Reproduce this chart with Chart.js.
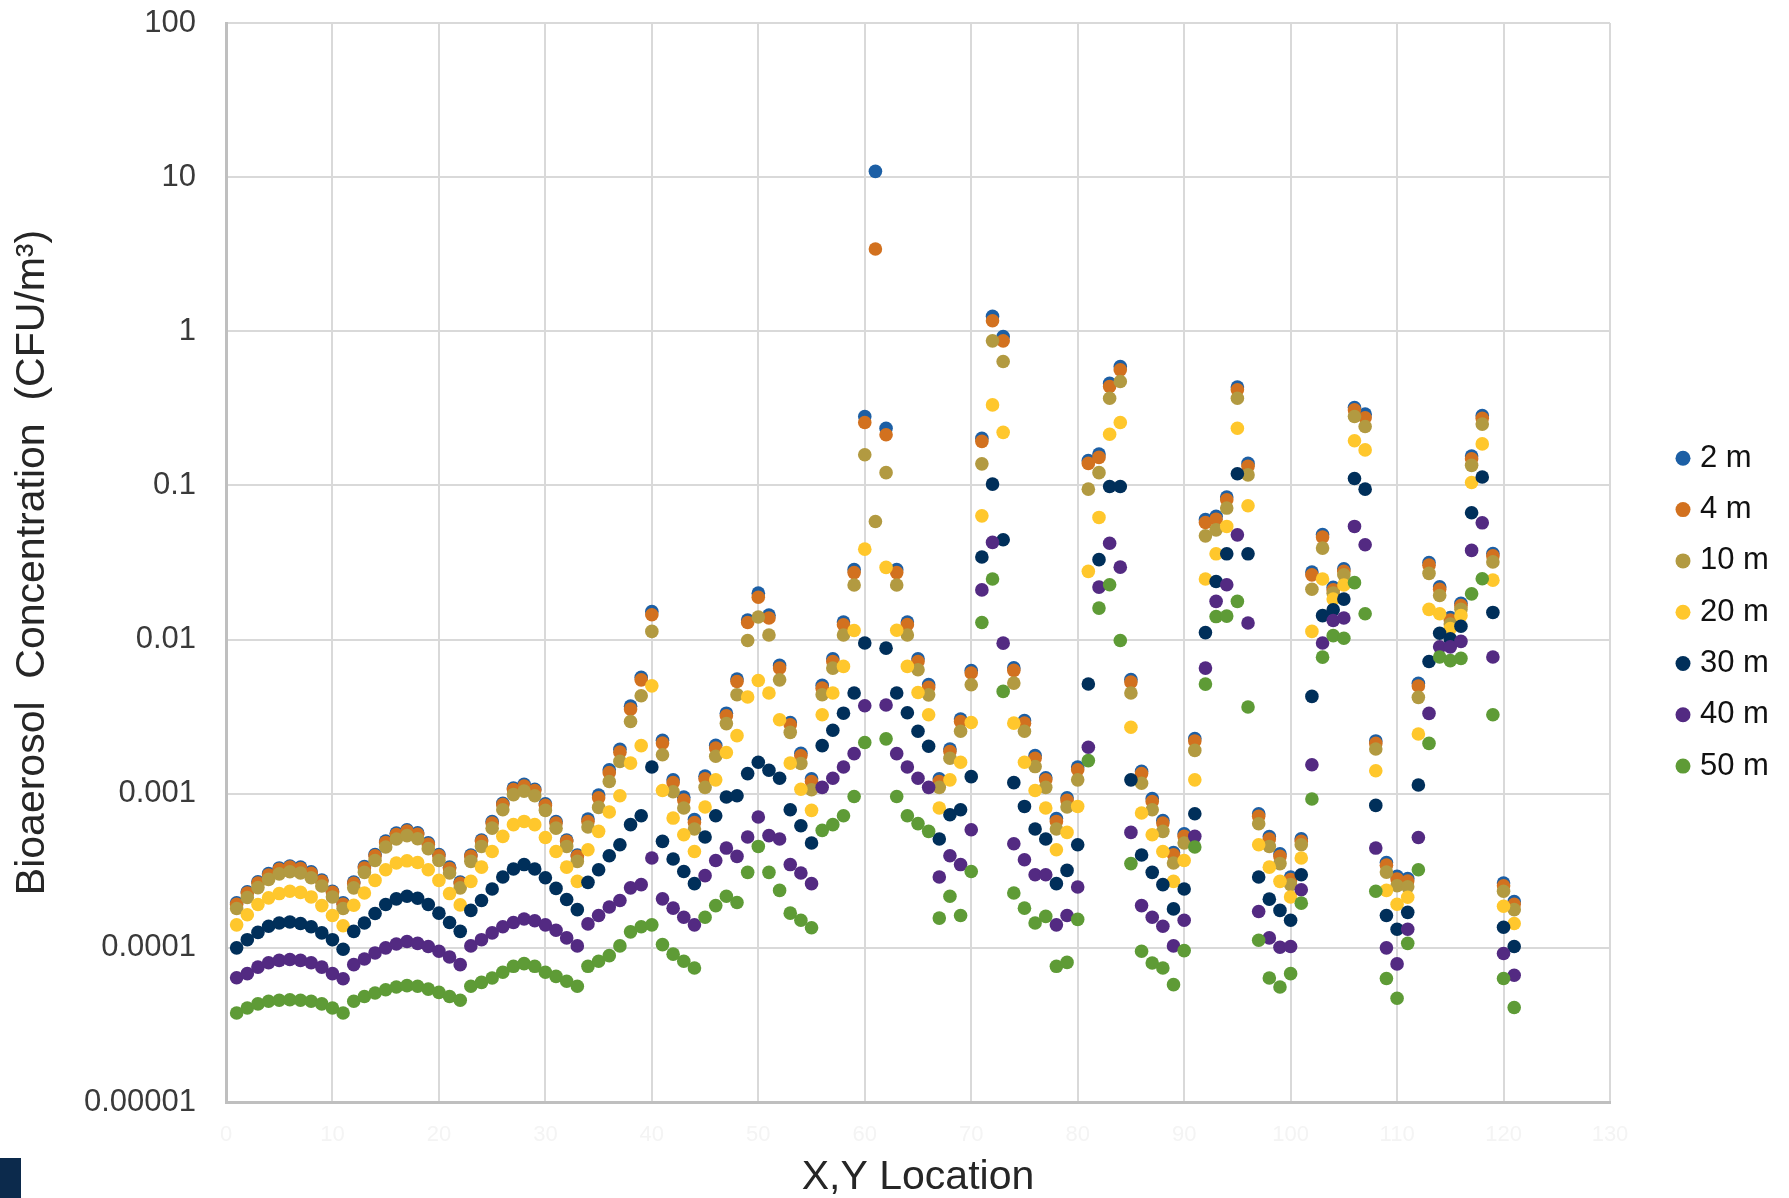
<!DOCTYPE html>
<html>
<head>
<meta charset="utf-8">
<script src="https://cdn.jsdelivr.net/npm/chart.js@4.4.1/dist/chart.umd.min.js"></script>
<style>
  html, body { margin: 0; padding: 0; background: #ffffff; }
  #wrap { position: relative; width: 1789px; height: 1198px; }
  #corner { position: absolute; left: 0; top: 1158px; width: 21px; height: 40px; background: #0c2a4c; }
</style>
</head>
<body>
<div id="wrap">
  <canvas id="c" width="1789" height="1198"></canvas>
  <div id="corner"></div>
</div>
<script>
// ---------------- data ----------------
const seriesNames = ['2 m', '4 m', '10 m', '20 m', '30 m', '40 m', '50 m'];
const xTickValues = [0, 10, 20, 30, 40, 50, 60, 70, 80, 90, 100, 110, 120, 130];
const yTickValues = [1e-5, 1e-4, 1e-3, 1e-2, 1e-1, 1, 10, 100];
const yTickLabels = ['0.00001', '0.0001', '0.001', '0.01', '0.1', '1', '10', '100'];
// X,Y location index 1..121 (11 x 11 grid)
const locationCount = 121;

const s2m = [
  1.96e-4, 2.31e-4, 2.68e-4, 3.03e-4, 3.3e-4, 3.4e-4, 3.34e-4, 3.11e-4, 2.75e-4, 2.33e-4, 1.96e-4,
  2.67e-4, 3.37e-4, 4.03e-4, 4.93e-4, 5.55e-4, 5.84e-4, 5.57e-4, 4.8e-4, 4.03e-4, 3.34e-4, 2.67e-4,
  4.0e-4, 5.0e-4, 6.6e-4, 8.68e-4, 1.09e-3, 1.15e-3, 1.07e-3, 8.6e-4, 6.6e-4, 5.0e-4, 4.0e-4,
  6.85e-4, 9.8e-4, 1.43e-3, 1.94e-3, 3.7e-3, 5.7e-3, 1.52e-2, 2.22e-3, 1.23e-3, 9.5e-4, 6.8e-4,
  1.3e-3, 2.06e-3, 3.33e-3, 5.55e-3, 1.34e-2, 2.0e-2, 1.44e-2, 6.8e-3, 2.9e-3, 1.83e-3, 1.25e-3,
  5.05e-3, 7.5e-3, 1.3e-2, 2.85e-2, 0.28, 10.9, 0.235, 2.85e-2, 1.3e-2, 7.5e-3, 5.1e-3,
  1.25e-3, 1.95e-3, 3.05e-3, 6.3e-3, 0.202, 1.25, 0.925, 6.55e-3, 2.98e-3, 1.77e-3, 1.27e-3,
  6.9e-4, 9.4e-4, 1.49e-3, 0.145, 0.16, 0.46, 0.59, 5.5e-3, 1.4e-3, 9.3e-4, 6.7e-4,
  4.15e-4, 5.5e-4, 2.28e-3, 0.06, 0.063, 0.084, 0.435, 0.139, 7.4e-4, 5.28e-4, 4.07e-4,
  2.88e-4, 5.1e-4, 0.0274, 0.048, 0.0218, 0.0288, 0.32, 0.29, 2.2e-3, 3.58e-4, 2.91e-4,
  2.82e-4, 5.2e-3, 0.0316, 0.022, 0.0139, 0.0172, 0.155, 0.284, 0.0362, 2.63e-4, 2.0e-4
];
const s4m = [
  1.92e-4, 2.27e-4, 2.63e-4, 2.97e-4, 3.23e-4, 3.34e-4, 3.27e-4, 3.05e-4, 2.7e-4, 2.29e-4, 1.92e-4,
  2.62e-4, 3.3e-4, 3.95e-4, 4.83e-4, 5.44e-4, 5.72e-4, 5.46e-4, 4.7e-4, 3.95e-4, 3.27e-4, 2.62e-4,
  3.93e-4, 4.91e-4, 6.46e-4, 8.5e-4, 1.065e-3, 1.12e-3, 1.05e-3, 8.42e-4, 6.46e-4, 4.91e-4, 3.93e-4,
  6.6e-4, 9.4e-4, 1.37e-3, 1.86e-3, 3.54e-3, 5.48e-3, 1.45e-2, 2.13e-3, 1.18e-3, 9.1e-4, 6.5e-4,
  1.25e-3, 1.98e-3, 3.2e-3, 5.35e-3, 1.29e-2, 1.88e-2, 1.38e-2, 6.53e-3, 2.8e-3, 1.76e-3, 1.2e-3,
  4.84e-3, 7.2e-3, 1.247e-2, 2.72e-2, 0.256, 3.42, 0.213, 2.72e-2, 1.25e-2, 7.2e-3, 4.9e-3,
  1.2e-3, 1.88e-3, 2.94e-3, 6.07e-3, 0.193, 1.17, 0.867, 6.31e-3, 2.87e-3, 1.7e-3, 1.23e-3,
  6.61e-4, 9.05e-4, 1.43e-3, 0.139, 0.152, 0.438, 0.562, 5.3e-3, 1.35e-3, 8.9e-4, 6.45e-4,
  4.02e-4, 5.29e-4, 2.2e-3, 0.0575, 0.0604, 0.0807, 0.417, 0.133, 7.13e-4, 5.08e-4, 3.92e-4,
  2.77e-4, 4.91e-4, 0.0263, 0.0462, 0.021, 0.0277, 0.309, 0.275, 2.12e-3, 3.44e-4, 2.8e-4,
  2.71e-4, 5.0e-3, 0.0304, 0.0212, 0.0134, 0.0166, 0.149, 0.273, 0.0349, 2.53e-4, 1.92e-4
];
const s10m = [
  1.8e-4, 2.12e-4, 2.46e-4, 2.78e-4, 3.02e-4, 3.12e-4, 3.06e-4, 2.85e-4, 2.52e-4, 2.14e-4, 1.8e-4,
  2.45e-4, 3.09e-4, 3.69e-4, 4.51e-4, 5.08e-4, 5.35e-4, 5.1e-4, 4.4e-4, 3.69e-4, 3.06e-4, 2.45e-4,
  3.64e-4, 4.55e-4, 5.98e-4, 7.87e-4, 9.86e-4, 1.04e-3, 9.7e-4, 7.8e-4, 5.98e-4, 4.55e-4, 3.64e-4,
  6.08e-4, 8.15e-4, 1.2e-3, 1.62e-3, 2.94e-3, 4.32e-3, 1.13e-2, 1.79e-3, 1.03e-3, 8.08e-4, 5.9e-4,
  1.1e-3, 1.75e-3, 2.85e-3, 4.39e-3, 9.87e-3, 1.4e-2, 1.07e-2, 5.48e-3, 2.5e-3, 1.57e-3, 1.06e-3,
  4.39e-3, 6.53e-3, 1.07e-2, 2.26e-2, 0.158, 0.0583, 0.121, 2.26e-2, 1.07e-2, 6.37e-3, 4.38e-3,
  1.1e-3, 1.7e-3, 2.54e-3, 5.09e-3, 0.138, 0.867, 0.637, 5.22e-3, 2.54e-3, 1.5e-3, 1.1e-3,
  5.9e-4, 8.2e-4, 1.23e-3, 0.0946, 0.121, 0.368, 0.472, 4.5e-3, 1.17e-3, 7.87e-4, 5.7e-4,
  3.55e-4, 4.79e-4, 1.91e-3, 0.0471, 0.0515, 0.0713, 0.368, 0.117, 6.39e-4, 4.55e-4, 3.52e-4,
  2.57e-4, 4.67e-4, 0.0212, 0.0392, 0.02, 0.0263, 0.28, 0.241, 1.95e-3, 3.1e-4, 2.53e-4,
  2.49e-4, 4.22e-3, 0.0269, 0.0193, 0.0126, 0.0157, 0.135, 0.25, 0.0319, 2.33e-4, 1.77e-4
];
const s20m = [
  1.41e-4, 1.64e-4, 1.91e-4, 2.11e-4, 2.25e-4, 2.33e-4, 2.29e-4, 2.14e-4, 1.88e-4, 1.62e-4, 1.39e-4,
  1.89e-4, 2.27e-4, 2.74e-4, 3.21e-4, 3.55e-4, 3.67e-4, 3.58e-4, 3.21e-4, 2.74e-4, 2.25e-4, 1.9e-4,
  2.7e-4, 3.34e-4, 4.22e-4, 5.29e-4, 6.3e-4, 6.61e-4, 6.3e-4, 5.2e-4, 4.22e-4, 3.34e-4, 2.7e-4,
  4.33e-4, 5.7e-4, 7.61e-4, 9.7e-4, 1.58e-3, 2.05e-3, 5.01e-3, 1.05e-3, 6.95e-4, 5.42e-4, 4.22e-4,
  8.2e-4, 1.23e-3, 1.85e-3, 2.38e-3, 4.24e-3, 5.43e-3, 4.5e-3, 3.02e-3, 1.58e-3, 1.07e-3, 7.8e-4,
  3.25e-3, 4.5e-3, 6.7e-3, 1.146e-2, 3.86e-2, null, 2.94e-2, 1.15e-2, 6.7e-3, 4.54e-3, 3.25e-3,
  8.08e-4, 1.23e-3, 1.6e-3, 2.9e-3, 0.0635, 0.333, 0.221, 2.87e-3, 1.6e-3, 1.05e-3, 8.08e-4,
  4.33e-4, 5.61e-4, 8.27e-4, 0.0277, 0.062, 0.215, 0.256, 2.7e-3, 7.5e-4, 5.42e-4, 4.22e-4,
  2.7e-4, 3.69e-4, 1.23e-3, 0.0247, 0.036, 0.0542, 0.235, 0.0738, 4.67e-4, 3.34e-4, 2.7e-4,
  2.14e-4, 3.83e-4, 0.0113, 0.0247, 0.0183, 0.0226, 0.195, 0.17, 1.41e-3, 2.36e-4, 1.92e-4,
  2.13e-4, 2.44e-3, 0.0157, 0.0147, 0.0118, 0.0143, 0.1045, 0.186, 0.0243, 1.86e-4, 1.44e-4
];
const s30m = [
  1.0e-4, 1.13e-4, 1.26e-4, 1.38e-4, 1.45e-4, 1.47e-4, 1.44e-4, 1.37e-4, 1.25e-4, 1.13e-4, 9.8e-5,
  1.28e-4, 1.45e-4, 1.67e-4, 1.91e-4, 2.08e-4, 2.16e-4, 2.1e-4, 1.91e-4, 1.68e-4, 1.46e-4, 1.28e-4,
  1.75e-4, 2.03e-4, 2.41e-4, 2.88e-4, 3.25e-4, 3.47e-4, 3.25e-4, 2.85e-4, 2.43e-4, 2.06e-4, 1.77e-4,
  2.66e-4, 3.21e-4, 3.96e-4, 4.67e-4, 6.3e-4, 7.2e-4, 1.49e-3, 4.91e-4, 3.77e-4, 3.13e-4, 2.61e-4,
  5.24e-4, 7.2e-4, 9.52e-4, 9.7e-4, 1.35e-3, 1.6e-3, 1.42e-3, 1.26e-3, 7.87e-4, 6.2e-4, 4.79e-4,
  2.05e-3, 2.58e-3, 3.33e-3, 4.5e-3, 9.5e-3, null, 8.8e-3, 4.5e-3, 3.35e-3, 2.54e-3, 2.03e-3,
  5.08e-4, 7.31e-4, 7.87e-4, 1.29e-3, 0.0343, 0.102, 0.0444, 1.18e-3, 8.27e-4, 5.9e-4, 5.08e-4,
  2.61e-4, 3.18e-4, 4.67e-4, 5.15e-3, 0.033, 0.0984, 0.0984, 1.23e-3, 4.0e-4, 3.09e-4, 2.57e-4,
  1.79e-4, 2.41e-4, 7.41e-4, 0.0111, 0.0238, 0.036, 0.119, 0.036, 2.88e-4, 2.07e-4, 1.75e-4,
  1.51e-4, 2.98e-4, 4.28e-3, 0.0143, 0.0156, 0.0183, 0.111, 0.0946, 8.4e-4, 1.62e-4, 1.32e-4,
  1.7e-4, 1.14e-3, 7.2e-3, 0.011, 0.0101, 0.0122, 0.0665, 0.1135, 0.015, 1.36e-4, 1.02e-4
];
const s40m = [
  6.4e-5, 6.8e-5, 7.5e-5, 8.0e-5, 8.3e-5, 8.4e-5, 8.3e-5, 8.0e-5, 7.5e-5, 6.8e-5, 6.3e-5,
  7.78e-5, 8.47e-5, 9.27e-5, 1.0e-4, 1.06e-4, 1.1e-4, 1.07e-4, 1.02e-4, 9.5e-5, 8.73e-5, 7.78e-5,
  1.03e-4, 1.13e-4, 1.25e-4, 1.37e-4, 1.46e-4, 1.54e-4, 1.5e-4, 1.41e-4, 1.3e-4, 1.16e-4, 1.03e-4,
  1.43e-4, 1.62e-4, 1.84e-4, 2.03e-4, 2.45e-4, 2.57e-4, 3.83e-4, 2.08e-4, 1.81e-4, 1.58e-4, 1.41e-4,
  2.94e-4, 3.69e-4, 4.44e-4, 3.92e-4, 5.24e-4, 7.06e-4, 5.35e-4, 5.08e-4, 3.47e-4, 3.06e-4, 2.61e-4,
  1.1e-3, 1.26e-3, 1.49e-3, 1.82e-3, 3.72e-3, null, 3.76e-3, 1.82e-3, 1.49e-3, 1.26e-3, 1.1e-3,
  2.88e-4, 3.96e-4, 3.47e-4, 5.84e-4, 0.021, 0.0427, 9.48e-3, 4.74e-4, 3.73e-4, 2.98e-4, 2.98e-4,
  1.41e-4, 1.62e-4, 2.48e-4, 2.0e-3, 0.0219, 0.0422, 0.0295, 5.61e-4, 1.88e-4, 1.58e-4, 1.38e-4,
  1.03e-4, 1.51e-4, 5.29e-4, 6.53e-3, 0.0177, 0.0227, 0.0478, 0.0128, 1.72e-4, 1.16e-4, 1.01e-4,
  1.02e-4, 2.38e-4, 1.54e-3, 9.5e-3, 0.0133, 0.0138, 0.0542, 0.0412, 4.44e-4, 1.0e-4, 7.87e-5,
  1.32e-4, 5.2e-4, 3.32e-3, 8.97e-3, 8.97e-3, 9.73e-3, 0.0379, 0.0572, 7.71e-3, 9.2e-5, 6.64e-5
];
const s50m = [
  3.78e-5, 4.07e-5, 4.33e-5, 4.5e-5, 4.57e-5, 4.61e-5, 4.57e-5, 4.5e-5, 4.33e-5, 4.07e-5, 3.78e-5,
  4.5e-5, 4.84e-5, 5.09e-5, 5.35e-5, 5.57e-5, 5.69e-5, 5.63e-5, 5.4e-5, 5.14e-5, 4.84e-5, 4.57e-5,
  5.63e-5, 5.97e-5, 6.38e-5, 6.94e-5, 7.59e-5, 7.9e-5, 7.59e-5, 6.94e-5, 6.53e-5, 6.07e-5, 5.63e-5,
  7.59e-5, 8.18e-5, 8.9e-5, 1.03e-4, 1.27e-4, 1.37e-4, 1.41e-4, 1.05e-4, 9.1e-5, 8.18e-5, 7.4e-5,
  1.58e-4, 1.88e-4, 2.16e-4, 1.97e-4, 3.09e-4, 4.55e-4, 3.09e-4, 2.36e-4, 1.68e-4, 1.51e-4, 1.35e-4,
  5.78e-4, 6.3e-4, 7.2e-4, 9.6e-4, 2.15e-3, null, 2.27e-3, 9.6e-4, 7.2e-4, 6.4e-4, 5.7e-4,
  1.56e-4, 2.16e-4, 1.62e-4, 3.13e-4, 0.0129, 0.0247, 4.61e-3, 2.27e-4, 1.81e-4, 1.45e-4, 1.6e-4,
  7.59e-5, 8.05e-5, 1.53e-4, 1.64e-3, 0.016, 0.0227, 9.87e-3, 3.52e-4, 9.5e-5, 7.97e-5, 7.4e-5,
  5.77e-5, 9.6e-5, 4.51e-4, 5.14e-3, 0.0141, 0.0142, 0.0177, 3.65e-3, 1.12e-4, 6.38e-5, 5.57e-5,
  6.8e-5, 1.95e-4, 9.24e-4, 7.69e-3, 0.0106, 0.0102, 0.0234, 0.0147, 2.33e-4, 6.33e-5, 4.71e-5,
  1.07e-4, 3.21e-4, 2.12e-3, 7.71e-3, 7.3e-3, 7.55e-3, 0.0198, 0.0248, 3.25e-3, 6.33e-5, 4.1e-5
];

const seriesValues = [s2m, s4m, s10m, s20m, s30m, s40m, s50m];
const seriesColors = ['#1c5fa5', '#d2711f', '#b29a41', '#ffc72c', '#002f5a', '#532a82', '#5e9b36'];

// ---------------- chart ----------------
const FONT = 'Arial, "Liberation Sans", Helvetica, sans-serif';
Chart.defaults.font.family = FONT;

function toPoints(vals) {
  const pts = [];
  for (let i = 0; i < locationCount; i++) {
    const v = vals[i];
    if (v !== null && v !== undefined) pts.push({ x: i + 1, y: v });
  }
  return pts;
}

const datasets = seriesNames.map((name, k) => ({
  label: name,
  data: toPoints(seriesValues[k]),
  backgroundColor: seriesColors[k],
  borderColor: seriesColors[k],
  pointBackgroundColor: seriesColors[k],
  pointBorderColor: seriesColors[k],
  pointBorderWidth: 0,
  pointRadius: 6.8,
  pointHoverRadius: 6.8,
  showLine: false,
  order: seriesNames.length - k
}));

const LEGEND_W = 179;
const LEGEND_MARK_X = 1681.5;   // x where legend marker box starts
const LEGEND_FIRST_TOP = 442.8; // top of first legend row

const legendPlacement = {
  id: 'legendPlacement',
  afterInit(chart) {
    const lg = chart.legend;
    if (!lg) return;
    const origFit = lg.fit.bind(lg);
    lg.fit = function () { origFit(); this.width = LEGEND_W; };
  },
  afterLayout(chart) {
    const lg = chart.legend;
    if (!lg) return;
    const pad = lg.options.labels.padding;
    const dx = (LEGEND_MARK_X - pad) - lg.left;
    lg.left += dx; lg.right += dx;
    const colH = (lg.columnSizes && lg.columnSizes[0]) ? lg.columnSizes[0].height : 0;
    const start = (lg.top + pad + lg.bottom - colH) / 2;
    const dy = LEGEND_FIRST_TOP - start;
    lg.top += dy; lg.bottom += dy;
  }
};

new Chart(document.getElementById('c'), {
  type: 'scatter',
  data: { datasets },
  options: {
    responsive: false,
    animation: false,
    devicePixelRatio: 1,
    layout: { padding: { top: 23, left: 0, right: 0, bottom: 0 } },
    scales: {
      x: {
        type: 'linear',
        min: 0,
        max: 130,
        afterBuildTicks(scale) { scale.ticks = xTickValues.map(v => ({ value: v })); },
        ticks: { color: '#f4f4f4', font: { size: 22 }, padding: 20, maxRotation: 0, autoSkip: false },
        grid: { color: '#d9d9d9', lineWidth: 2, drawTicks: false },
        border: { color: '#bfbfbf', width: 3 },
        title: { display: true, text: 'X,Y Location', color: '#262626', font: { size: 41, lineHeight: 1 }, padding: { top: 0, bottom: 0 } },
        afterFit(scale) { scale.height = 96; scale.paddingLeft = 0; scale.paddingRight = 0; }
      },
      y: {
        type: 'logarithmic',
        min: 1e-5,
        max: 100,
        afterBuildTicks(scale) { scale.ticks = yTickValues.map(v => ({ value: v, major: true })); },
        ticks: {
          callback: (v, i) => yTickLabels[i],
          color: '#3a3a3a', font: { size: 31 }, padding: 30, autoSkip: false
        },
        grid: { color: '#d9d9d9', lineWidth: 2, drawTicks: false },
        border: { color: '#bfbfbf', width: 3 },
        title: { display: true, text: 'Bioaerosol  Concentration  (CFU/m\u00B3)', color: '#262626', font: { size: 41, lineHeight: 1.2 }, padding: { top: 8, bottom: 0 } },
        afterFit(scale) { scale.width = 226; scale.paddingTop = 0; scale.paddingBottom = 0; }
      }
    },
    plugins: {
      legend: {
        position: 'right',
        labels: {
          usePointStyle: true,
          pointStyle: 'circle',
          boxWidth: 3,
          boxHeight: 10.6,
          padding: 20.3,
          color: '#111111',
          font: { size: 31 },
          sort: (a, b) => a.datasetIndex - b.datasetIndex
        }
      },
      tooltip: { enabled: false }
    }
  },
  plugins: [legendPlacement]
});
</script>
</body>
</html>
